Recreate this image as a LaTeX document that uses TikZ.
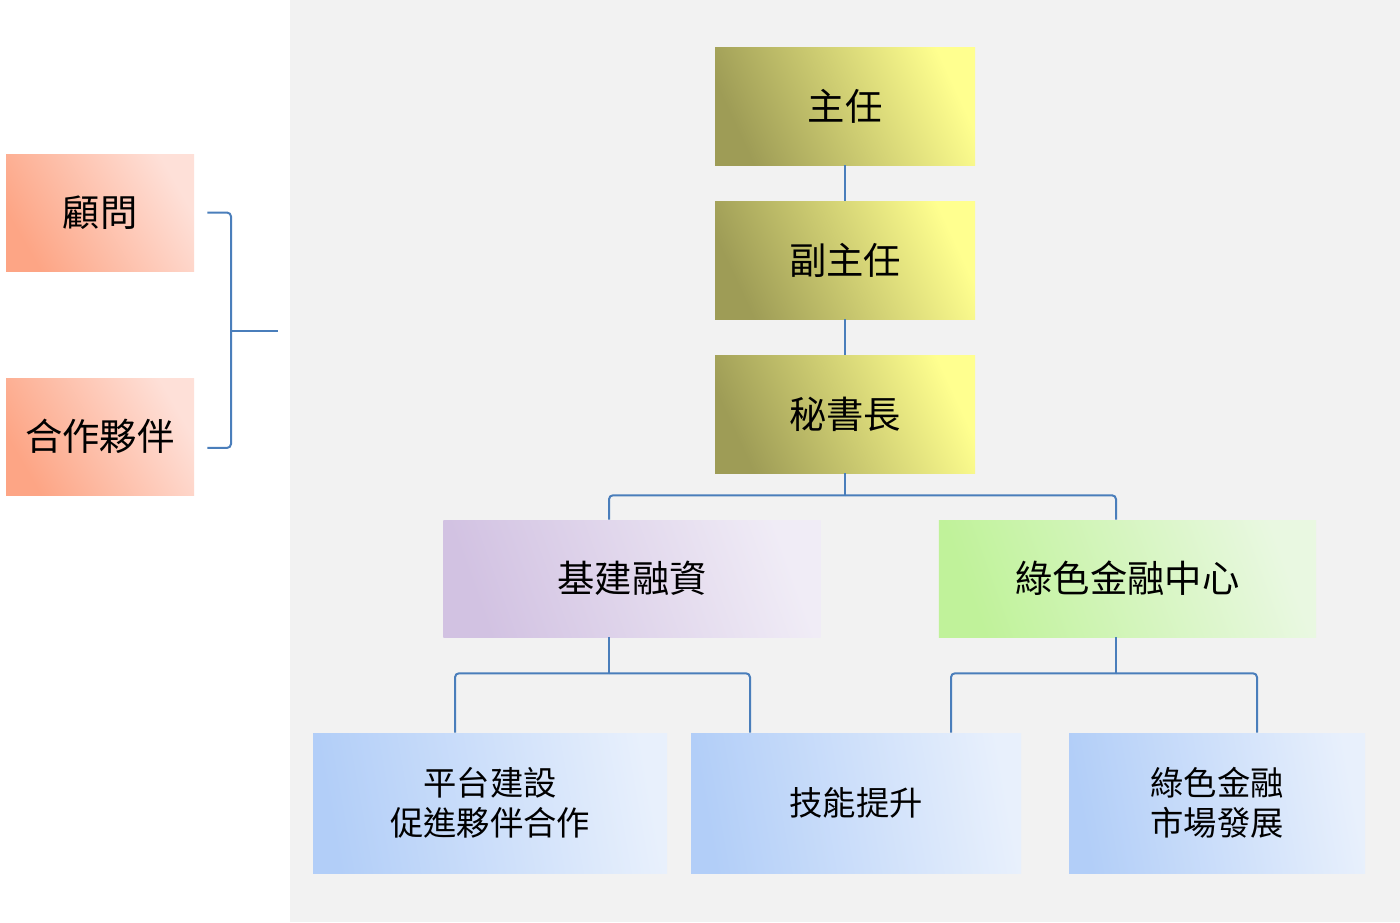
\documentclass[tikz,border=0pt]{standalone}
\usepackage{fontspec}
\usepackage{tikz}
\newfontfamily\cjk{Noto Sans CJK TC}
\definecolor{bgGray}{HTML}{F2F2F2}
\definecolor{linkBlue}{HTML}{4A7EBB}
\definecolor{oliveDark}{HTML}{9E9C56}
\definecolor{oliveLight}{HTML}{FFFF8F}
\definecolor{lilacDark}{HTML}{D2C2E2}
\definecolor{lilacLight}{HTML}{F0ECF6}
\definecolor{greenDark}{HTML}{C0F29A}
\definecolor{greenLight}{HTML}{E9F8E1}
\definecolor{blueDark}{HTML}{B2CEF8}
\definecolor{blueLight}{HTML}{E8F0FC}
\definecolor{salmonDark}{HTML}{FDA585}
\definecolor{salmonLight}{HTML}{FEE0D8}

\begin{document}
\begin{tikzpicture}[x=0.75pt,y=-0.75pt,
  box_node/.style={rectangle,inner sep=0pt,font=\cjk\fontsize{28pt}{30pt}\selectfont,text=black},
  lead_node/.style={box_node,minimum width=195pt,minimum height=88.5pt,left color=oliveDark,right color=oliveLight,shading angle=115},
  unit_node/.style={box_node,minimum width=283pt,minimum height=87.75pt,shading angle=110},
  task_node/.style={box_node,minimum height=105pt,align=center,font=\cjk\fontsize{25pt}{30pt}\selectfont,left color=blueDark,right color=blueLight,shading angle=100},
  side_node/.style={box_node,minimum width=141pt,minimum height=87.75pt,left color=salmonDark,right color=salmonLight,shading angle=120},
  link/.style={draw=linkBlue,line width=1.5pt,rounded corners=3pt}]

  \useasboundingbox (0,0) rectangle (1400,922);
  \fill[white] (0,0) rectangle (1400,922);
  \fill[bgGray] (290,0) rectangle (1400,922);

  \node[lead_node] (1) at (845,106) {主任};
  \node[lead_node] (2) at (845,260) {副主任};
  \node[lead_node] (3) at (845,414) {秘書長};
  \node[unit_node,left color=lilacDark,right color=lilacLight,shading angle=110] (4) at (632,578.5) {基建融資};
  \node[unit_node,left color=greenDark,right color=greenLight,shading angle=110] (5) at (1127.5,578.5) {綠色金融中心};
  \node[task_node,minimum width=265.5pt] (6) at (490,803) {平台建設\\促進夥伴合作};
  \node[task_node,minimum width=247.5pt] (7) at (856,803) {技能提升};
  \node[task_node,minimum width=222pt] (8) at (1217,803) {綠色金融\\市場發展};
  \node[side_node] (9) at (100,212.5) {顧問};
  \node[side_node] (10) at (100,436.5) {合作夥伴};

  \draw[link] (1) -- (2) -- (3);
  % branches
  \draw[link] (3.south) -- ++(0,22) coordinate (j3);
  \draw[link] (j3) -| ([xshift=-17.25pt]4.north);
  \draw[link] (j3) -| ([xshift=-8.6pt]5.north);
  \draw[link] ([xshift=-17.25pt]4.south) -- ++(0,36) coordinate (j4);
  \draw[link] (j4) -| ([xshift=-26.25pt]6.north);
  \draw[link] (j4) -| ([xshift=-79.5pt]7.north);
  \draw[link] ([xshift=-8.6pt]5.south) -- ++(0,36) coordinate (j5);
  \draw[link] (j5) -| ([xshift=71.25pt]7.north);
  \draw[link] (j5) -| ([xshift=30pt]8.north);

  \coordinate (joint) at (231,331);
  \coordinate (tip) at (278,331);
  \draw[link] ([xshift=9.75pt]9.east) -| (joint) |- ([xshift=9.75pt,yshift=-8.6pt]10.east);
  \draw[link] (joint) -- (tip);

\end{tikzpicture}
\end{document}
